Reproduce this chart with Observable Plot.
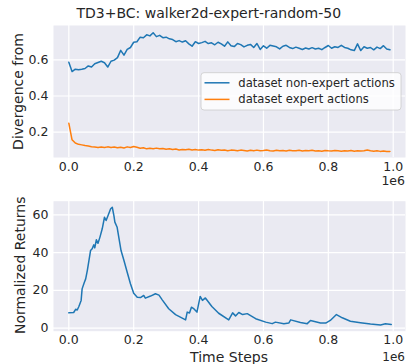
<!DOCTYPE html>
<html><head><meta charset="utf-8">
<script src="https://cdn.jsdelivr.net/npm/d3@7"></script>
<script src="https://cdn.jsdelivr.net/npm/@observablehq/plot@0.6"></script>
<style>
body{margin:0;background:#fff;}
#wrap{position:relative;width:408px;height:364px;overflow:hidden;font-family:"DejaVu Sans";}
#wrap svg{position:absolute;left:0;}
</style></head><body><div id="wrap"></div>
<script>
const title = "TD3+BC: walker2d-expert-random-50";
const seriesNames = ["dataset non-expert actions", "dataset expert actions"];
const seriesColors = ["#1f77b4", "#ff7f0e"];
const xTicks = [0, 200000, 400000, 600000, 800000, 1000000];
const divTicks = [0.2, 0.4, 0.6];
const retTicks = [0, 20, 40, 60];

const divSteps = d3.range(100).map(i => i * 10000);
const nonExpert = [
0.587,0.535,0.548,0.545,0.548,0.552,0.566,0.560,0.578,0.585,
0.592,0.584,0.560,0.592,0.598,0.612,0.652,0.626,0.657,0.668,
0.697,0.700,0.725,0.722,0.738,0.732,0.749,0.728,0.735,0.722,
0.725,0.716,0.712,0.700,0.706,0.698,0.705,0.688,0.675,0.700,
0.690,0.695,0.702,0.690,0.694,0.683,0.697,0.688,0.675,0.699,
0.678,0.673,0.690,0.684,0.671,0.680,0.685,0.668,0.690,0.657,
0.677,0.664,0.680,0.676,0.672,0.660,0.675,0.680,0.668,0.662,
0.670,0.664,0.657,0.665,0.660,0.667,0.660,0.664,0.656,0.668,
0.679,0.664,0.672,0.668,0.680,0.668,0.664,0.655,0.651,0.688,
0.651,0.672,0.664,0.668,0.655,0.670,0.662,0.678,0.660,0.655];
const expert = [
0.250,0.158,0.140,0.133,0.130,0.126,0.124,0.120,0.118,0.116,
0.118,0.115,0.119,0.116,0.118,0.114,0.117,0.113,0.119,0.115,
0.121,0.117,0.111,0.114,0.108,0.111,0.109,0.112,0.108,0.110,
0.106,0.109,0.104,0.107,0.102,0.105,0.103,0.106,0.102,0.104,
0.101,0.103,0.100,0.104,0.101,0.099,0.103,0.100,0.102,0.098,
0.101,0.100,0.097,0.101,0.099,0.096,0.100,0.098,0.101,0.097,
0.099,0.102,0.098,0.096,0.100,0.097,0.099,0.096,0.100,0.098,
0.097,0.100,0.096,0.099,0.097,0.100,0.096,0.098,0.095,0.099,
0.097,0.096,0.099,0.097,0.095,0.098,0.096,0.099,0.095,0.097,
0.096,0.098,0.102,0.097,0.095,0.097,0.094,0.096,0.093,0.094];

const returnSteps = [
0,15000,21000,26000,31000,38000,41000,48000,52000,57000,
62000,67000,72000,77000,80000,85000,90000,96000,103000,110000,
115000,121000,129000,134000,139000,142000,149000,154000,161000,170000,
180000,190000,200000,211000,221000,231000,236000,252000,267000,278000,
288000,308000,329000,360000,365000,372000,378000,386000,395000,405000,
412000,421000,441000,462000,493000,505000,514000,524000,536000,550000,
576000,607000,627000,637000,663000,678000,684000,714000,735000,745000,
776000,792000,806000,825000,843000,868000,899000,930000,961000,976000,994000];
const returnValues = [
8.1,8.3,10.0,9.6,11.5,14.7,20.8,24.3,26.1,30.5,
35.8,41.1,42.0,44.1,42.5,46.8,44.9,48.2,52.6,58.7,
57.0,59.6,63.2,64.0,59.6,56.1,53.4,48.2,41.1,35.8,
29.6,23.5,18.5,16.4,16.2,17.3,15.9,17.0,18.2,17.5,
15.0,10.3,7.2,4.4,8.5,8.0,11.1,10.2,8.5,16.8,
14.7,16.0,11.5,7.9,4.4,8.1,6.5,8.3,7.2,7.7,
5.0,3.2,2.4,3.2,2.4,2.7,4.4,3.0,2.4,4.1,
2.7,2.7,4.1,7.2,5.5,3.7,2.9,2.2,1.7,2.3,2.0];

const divData = divSteps.flatMap((s, i) => [
  {step: s, value: nonExpert[i], series: seriesNames[0]},
  {step: s, value: expert[i], series: seriesNames[1]}
]);
const retData = returnSteps.map((s, i) => ({step: s, value: returnValues[i]}));

const wrap = document.getElementById("wrap");
const txt = "#262626";
const common = {
  width: 408,
  marginLeft: 53, marginRight: 3,
  style: {fontFamily: "DejaVu Sans", fontSize: "12.5px", color: txt, background: "transparent"},
  x: {domain: [-47200, 1037900], label: null},
  color: {domain: seriesNames, range: seriesColors}
};
const xfmt = d => (d / 1e6).toFixed(1);

const topChart = Plot.plot({
  ...common,
  height: 180, marginTop: 25, marginBottom: 23,
  y: {domain: [0.0602, 0.7895], label: null},
  marks: [
    Plot.frame({fill: "#eaeaf2", stroke: null}),
    Plot.gridX(xTicks, {stroke: "white", strokeOpacity: 1, strokeWidth: 1.2}),
    Plot.gridY(divTicks, {stroke: "white", strokeOpacity: 1, strokeWidth: 1.2}),
    Plot.line(divData, {x: "step", y: "value", z: "series", stroke: "series", strokeWidth: 1.5}),
    Plot.axisX(xTicks, {tickSize: 0, tickPadding: 5, tickFormat: xfmt, label: null}),
    Plot.axisY(divTicks, {tickSize: 0, tickPadding: 5, tickFormat: d => d.toFixed(1), label: null})
  ]
});
topChart.style.top = "0px";
wrap.appendChild(topChart);

const botChart = Plot.plot({
  ...common,
  height: 184, marginTop: 20.7, marginBottom: 33.3,
  y: {domain: [-1.6, 67.2], label: null},
  marks: [
    Plot.frame({fill: "#eaeaf2", stroke: null}),
    Plot.gridX(xTicks, {stroke: "white", strokeOpacity: 1, strokeWidth: 1.2}),
    Plot.gridY(retTicks, {stroke: "white", strokeOpacity: 1, strokeWidth: 1.2}),
    Plot.line(retData, {x: "step", y: "value", stroke: seriesColors[0], strokeWidth: 1.5}),
    Plot.axisX(xTicks, {tickSize: 0, tickPadding: 4, tickFormat: xfmt, label: null}),
    Plot.axisY(retTicks, {tickSize: 0, tickPadding: 5, tickFormat: d => String(d), label: null})
  ]
});
botChart.style.top = "180px";
wrap.appendChild(botChart);

// overlay texts and legend
const ov = d3.select(wrap).append("svg")
  .attr("width", 408).attr("height", 364)
  .style("top", "0px").style("pointer-events", "none")
  .attr("font-family", "DejaVu Sans").attr("fill", txt);
ov.append("text").attr("x", 208.8).attr("y", 17.6).attr("text-anchor", "middle")
  .attr("font-size", 14).text(title);
ov.append("text").attr("transform", "translate(22.8,91.5) rotate(-90)").attr("text-anchor", "middle")
  .attr("font-size", 14).text("Divergence from");
ov.append("text").attr("transform", "translate(25.4,265.3) rotate(-90)").attr("text-anchor", "middle")
  .attr("font-size", 14).text("Normalized Returns");
ov.append("text").attr("x", 229).attr("y", 362).attr("text-anchor", "middle")
  .attr("font-size", 14).text("Time Steps");
ov.append("text").attr("x", 405).attr("y", 185).attr("text-anchor", "end")
  .attr("font-size", 12.5).text("1e6");
ov.append("text").attr("x", 405).attr("y", 361).attr("text-anchor", "end")
  .attr("font-size", 12).text("1e6");

const lg = ov.append("g");
lg.append("rect").attr("x", 201).attr("y", 72.7).attr("width", 200).attr("height", 37.3)
  .attr("rx", 3).attr("fill", "white").attr("fill-opacity", 0.8).attr("stroke", "#cccccc").attr("stroke-width", 0.8);
seriesNames.forEach((name, i) => {
  const y = 82.8 + i * 16.6;
  lg.append("line").attr("x1", 204.5).attr("x2", 229.5).attr("y1", y).attr("y2", y)
    .attr("stroke", seriesColors[i]).attr("stroke-width", 1.5);
  lg.append("text").attr("x", 238.3).attr("y", y).attr("dy", "0.35em")
    .attr("font-size", 11.6).text(name);
});
</script></body></html>
